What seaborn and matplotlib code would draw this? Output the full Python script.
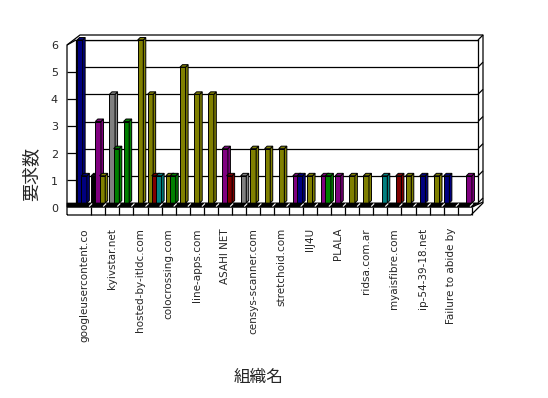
# 3D-style clustered bar chart of request counts per organisation
import pandas as pd
import seaborn as sns
import matplotlib.pyplot as plt
from matplotlib.patches import Polygon
from matplotlib.transforms import ScaledTranslation

sns.set_style("white")
plt.rcParams['font.family'] = ['DejaVu Sans', 'Noto Sans CJK JP']

# every other category carries a visible label
tick_labels = ["googleusercontent.co", "kyivstar.net", "hosted-by-itldc.com",
               "colocrossing.com", "line-apps.com", "ASAHI NET",
               "censys-scanner.com", "stretchoid.com", "IIJ4U", "PLALA",
               "ridsa.com.ar", "myaisfibre.com", "ip-54-39-18.net",
               "Failure to abide by"]
n_cats = 28

# three bar slots per category: value and colour code
slot0_vals = [6, 1, 0, 0, 0, 4, 0, 0, 0, 0, 0, 0, 0, 0, 0, 0, 0, 0, 0, 0, 0, 0, 0, 0, 0, 0, 1, 0]
slot0_cols = ["B", "K", "", "", "", "O", "", "", "", "", "", "", "", "", "", "", "", "", "", "", "", "", "", "", "", "", "B", ""]
slot1_vals = [1, 3, 4, 3, 6, 1, 1, 5, 4, 4, 2, 0, 2, 2, 2, 1, 1, 1, 1, 1, 1, 0, 0, 1, 1, 1, 0, 0]
slot1_cols = ["B", "P", "G", "g", "O", "R", "O", "O", "O", "O", "P", "", "O", "O", "O", "P", "O", "P", "P", "O", "O", "", "", "O", "B", "O", "", ""]
slot2_vals = [0, 1, 2, 0, 0, 1, 1, 0, 0, 0, 1, 1, 0, 0, 0, 1, 0, 1, 0, 0, 0, 1, 1, 0, 0, 0, 0, 1]
slot2_cols = ["", "O", "g", "", "", "T", "g", "", "", "", "R", "G", "", "", "", "B", "", "g", "", "", "", "T", "R", "", "", "", "", "P"]

colors = {"B": "#000080", "P": "#800080", "G": "#808080", "g": "#008000",
          "O": "#808000", "R": "#800000", "T": "#008080", "K": "#000000", "": "#ffffff"}

rows = []
for s, (vals, cols) in enumerate([(slot0_vals, slot0_cols), (slot1_vals, slot1_cols), (slot2_vals, slot2_cols)]):
    for i in range(n_cats):
        rows.append({"cat": i, "slot": "s%d" % s, "value": vals[i], "color": cols[i]})
df = pd.DataFrame(rows)

W, H = 548, 398
L, R, T, B = 76, 478, 40, 203
fig = plt.figure(figsize=(W / 100, H / 100), dpi=100)
ax = fig.add_axes([L / W, 1 - B / H, (R - L) / W, (B - T) / H])

sns.barplot(data=df, x="cat", y="value", hue="slot", dodge=True, width=0.9,
            errorbar=None, legend=False, palette=["white"] * 3, ax=ax)

x_lo, x_hi = -0.57, 27.93
ax.set_xlim(x_lo, x_hi)
ax.set_ylim(0, 6)
ux = (x_hi - x_lo) / (R - L)
uy = 6 / (B - T)
dx, dy = 2.5 * ux, 2.5 * uy

def px(x, y):
    # pixel position -> data coords of ax
    return (x_lo + (x - L) * ux, (B - y) * uy)

for s, cont in enumerate(ax.containers):
    sub = df[df["slot"] == "s%d" % s].sort_values("cat")
    for bar, (_, row) in zip(list(cont), sub.iterrows()):
        if row["value"] == 0:
            bar.remove()
            continue
        cx = bar.get_x() + bar.get_width() / 2
        w = 0.4
        x0, x1, h = cx - w / 2, cx + w / 2, bar.get_height()
        fc = colors[row["color"]]
        bar.set_x(x0)
        bar.set_width(w)
        bar.set_facecolor(fc)
        bar.set_edgecolor("black")
        bar.set_linewidth(0.7)
        bar.set_zorder(3 + s)
        top = Polygon([(x0, h), (x1, h), (x1 + dx, h + dy), (x0 + dx, h + dy)],
                      facecolor=fc, edgecolor="black", lw=0.7, zorder=3 + s, clip_on=False)
        side = Polygon([(x1, 0), (x1, h), (x1 + dx, h + dy), (x1 + dx, dy)],
                       facecolor=fc, edgecolor="black", lw=0.7, zorder=3 + s, clip_on=False)
        ax.add_patch(side)
        ax.add_patch(top)

# back wall grid and frame
ax.set_yticks(range(7))
ax.grid(axis="y", color="black", lw=0.9)
ax.set_axisbelow(True)
for sp in ax.spines.values():
    sp.set_visible(True)
    sp.set_color("black")
    sp.set_linewidth(0.9)

def line(pts, **kw):
    xs, ys = zip(*[px(*p) for p in pts])
    ax.plot(xs, ys, color=kw.get("color", "black"), lw=kw.get("lw", 0.9),
            clip_on=False, zorder=kw.get("zorder", 10), solid_capstyle="butt")

# outer 3D box
line([(67, 215), (67, 45), (80, 35), (483, 35), (483, 203), (471, 215), (67, 215)])
line([(67, 45), (L, 40)])
for v in range(7):
    yv = B - v / uy
    line([(R, yv), (483, yv - 5)])
    if 0 < v < 6:
        line([(67, yv + 4.5), (L, yv + 4.5)])

# floor: dark top band and cells along the front
band = Polygon([px(L, B), px(R, B), px(R - 5, B + 4), px(67, B + 4), px(67, B)],
               facecolor="black", edgecolor="black", lw=0.5, zorder=9, clip_on=False)
ax.add_patch(band)
line([(67, B + 4), (R - 6, B + 4), (483, B - 1)])
for k in range(n_cats):
    xb = (k + 0.5 - x_lo) / ux + L
    if xb < R - 6:
        line([(xb, B + 4), (xb, 215)])
        line([(xb - 2, B + 3.5), (xb + 1, B + 0.5)], color="white", lw=0.8, zorder=11)

# ticks and labels
ax.tick_params(axis="both", length=0)
ax.tick_params(axis="y", pad=13, labelsize=8)
for lab in ax.get_yticklabels():
    lab.set_transform(lab.get_transform() + ScaledTranslation(0, -5 / 100, fig.dpi_scale_trans))
ax.set_xticks(range(0, n_cats, 2))
ax.set_xticklabels(tick_labels, rotation=90, fontsize=7.5, va="top", ha="center")
ax.tick_params(axis="x", pad=18)
ax.set_xlabel("")
ax.set_ylabel("")

fig.text(259 / W, 1 - 377 / H, "組織名", ha="center", va="center", fontsize=12,
         family=["Noto Sans CJK JP"])
fig.text(31 / W, 1 - 174 / H, "要求数", ha="center", va="center", fontsize=13,
         rotation=90, family=["Noto Sans CJK JP"])

fig.savefig("out.png", dpi=100)
